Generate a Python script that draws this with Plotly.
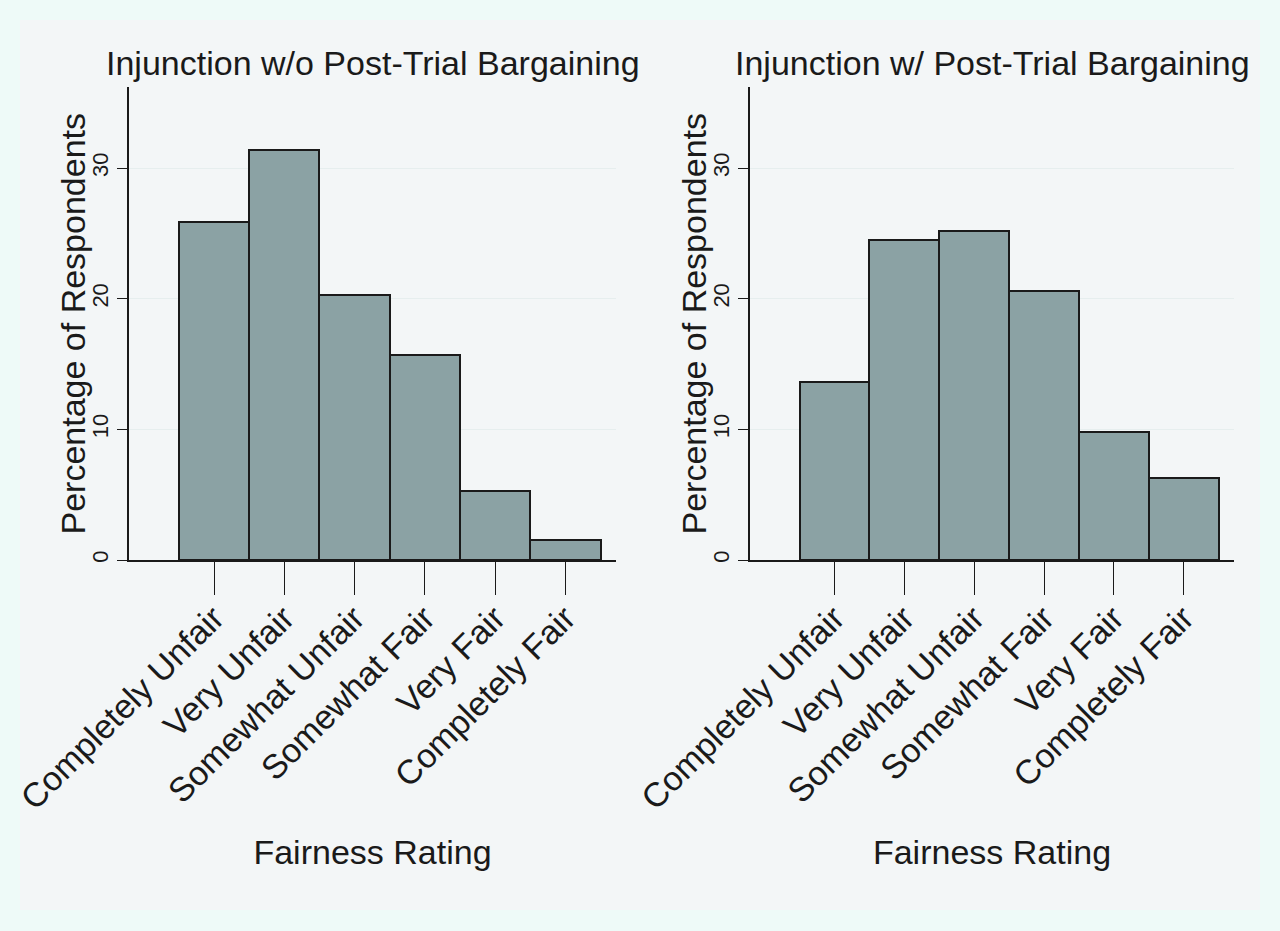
import plotly.graph_objects as go

categories = ["Completely Unfair", "Very Unfair", "Somewhat Unfair",
              "Somewhat Fair", "Very Fair", "Completely Fair"]
pct_without = [25.9, 31.4, 20.3, 15.7, 5.3, 1.5]
pct_with = [13.6, 24.5, 25.2, 20.6, 9.8, 6.3]
titles = ["Injunction w/o Post-Trial Bargaining", "Injunction w/ Post-Trial Bargaining"]
y_title = "Percentage of Respondents"
x_title = "Fairness Rating"
y_ticks = [0, 10, 20, 30]

W, H = 1280, 931
FONT = "Liberation Sans, Arial, Helvetica, sans-serif"
INK = "#1a1a1a"
BAR = "#8ba2a4"
OUTER = "#eefaf8"
INNER = "#f3f6f7"
FS = 34

def px_x(a, b):
    return [a / W, b / W]

def px_y(top, bottom):
    return [(H - bottom) / H, (H - top) / H]

fig = go.Figure()
fig.add_trace(go.Bar(x=categories, y=pct_without, xaxis="x", yaxis="y",
                     marker=dict(color=BAR, line=dict(color=INK, width=2)),
                     showlegend=False))
fig.add_trace(go.Bar(x=categories, y=pct_with, xaxis="x2", yaxis="y2",
                     marker=dict(color=BAR, line=dict(color=INK, width=2)),
                     showlegend=False))

ydom = px_y(87, 560)
xdoms = [px_x(129, 616), px_x(750, 1234)]
ytitle_x = [72, 693]

def xaxis(dom, anchor):
    return dict(domain=dom, anchor=anchor, range=[-1.21, 5.72], type="category",
                automargin=False,
                showline=True, linecolor=INK, linewidth=1.5, showgrid=False,
                ticks="outside", ticklen=33, tickwidth=1.3, tickcolor=INK,
                tickangle=-45, ticklabelstandoff=-10,
                tickfont=dict(size=FS, color=INK, family=FONT),
                title=dict(text=x_title, font=dict(size=FS, color=INK, family=FONT),
                           standoff=25),
                zeroline=False, fixedrange=True)

def yaxis(anchor):
    return dict(domain=ydom, anchor=anchor, range=[0, 36.2], automargin=False,
                tickvals=y_ticks, ticktext=[str(v) for v in y_ticks],
                showline=True, linecolor=INK, linewidth=1.5,
                showgrid=True, gridcolor="#e6eeee", gridwidth=1,
                ticks="outside", ticklen=10, tickwidth=1.3, tickcolor=INK,
                tickangle=-90, tickfont=dict(size=22, color=INK, family=FONT),
                zeroline=False, fixedrange=True)

annotations = []
for dom, t, yx in zip(xdoms, titles, ytitle_x):
    annotations.append(dict(text=t, x=(dom[0] + dom[1]) / 2, y=(H - 63) / H,
                            xref="paper", yref="paper", showarrow=False,
                            xanchor="center", yanchor="middle",
                            font=dict(size=FS, color=INK, family=FONT)))
    annotations.append(dict(text=y_title, x=yx / W, y=(ydom[0] + ydom[1]) / 2,
                            xref="paper", yref="paper", showarrow=False,
                            textangle=-90, xanchor="center", yanchor="middle",
                            font=dict(size=FS, color=INK, family=FONT)))

fig.update_layout(
    width=W, height=H, margin=dict(l=0, r=0, t=0, b=0, autoexpand=False),
    paper_bgcolor=OUTER, plot_bgcolor="white",
    bargap=0, font=dict(family=FONT, color=INK),
    xaxis=xaxis(xdoms[0], "y"), yaxis=yaxis("x"),
    xaxis2=xaxis(xdoms[1], "y2"), yaxis2=yaxis("x2"),
    annotations=annotations,
    shapes=[dict(type="rect", xref="paper", yref="paper",
                 x0=20 / W, x1=1260 / W, y0=(H - 910) / H, y1=(H - 20) / H,
                 fillcolor=INNER, line=dict(width=0), layer="below")],
)

fig.write_html(
    "out.html",
    config={"displayModeBar": False},
    post_script=("document.body.style.margin='0';"
                 "document.body.style.overflow='hidden';"
                 "document.body.style.background='" + OUTER + "';"),
)
